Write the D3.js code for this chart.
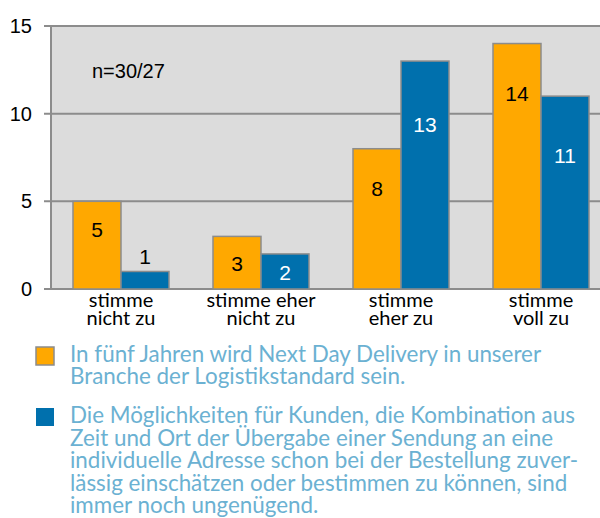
<!DOCTYPE html>
<html><head><meta charset="utf-8">
<script src="https://cdn.jsdelivr.net/npm/d3@7"></script>
<style>body{margin:0;background:#fff}svg{display:block}</style>
</head><body><svg id="c" width="600" height="518"></svg>
<script>
const categories = [["stimme","nicht zu"],["stimme eher","nicht zu"],["stimme","eher zu"],["stimme","voll zu"]];
const series1 = [5, 3, 8, 14];
const series2 = [1, 2, 13, 11];
const labelAnchor1 = [3.37, 1.48, 5.76, 11.18];
const labelAnchor2 = [1.83, 0.97, 9.41, 7.64];
const yTicks = [0, 5, 10, 15];
const seriesNames = [
  ["In fünf Jahren wird Next Day Delivery in unserer","Branche der Logistikstandard sein."],
  ["Die Möglichkeiten für Kunden, die Kombination aus","Zeit und Ort der Übergabe einer Sendung an eine","individuelle Adresse schon bei der Bestellung zuver-","lässig einschätzen oder bestimmen zu können, sind","immer noch ungenügend."]
];
const note = "n=30/27";
const colors = ["#FFA800", "#0070AD"];

const svg = d3.select("#c");
const L = 51, R = 611, T = 26, B = 289;
const x = d3.scaleBand().domain(d3.range(categories.length)).range([L, R]).paddingInner(0.3143).paddingOuter(0.1571);
const y = d3.scaleLinear().domain([0, 15]).range([B, T]);
const bw = x.bandwidth() / 2;
const grid = "#8c8c8c";

svg.append("rect").attr("x", L).attr("y", T).attr("width", 600 - L).attr("height", B - T).attr("fill", "#dcdcdc");
svg.append("g").selectAll("line").data(yTicks).join("line")
  .attr("x1", 44).attr("x2", 600).attr("y1", d => y(d)).attr("y2", d => y(d))
  .attr("stroke", grid).attr("stroke-width", 2);
svg.append("line").attr("x1", L).attr("x2", L).attr("y1", T).attr("y2", B).attr("stroke", grid).attr("stroke-width", 2);
svg.append("g").selectAll("text").data(yTicks).join("text")
  .attr("x", 32).attr("y", d => y(d)).attr("dy", "0.35em").attr("text-anchor", "end")
  .attr("font-family", "Liberation Sans, Arial, sans-serif").attr("font-size", 20).attr("fill", "#000")
  .text(d => d);

svg.append("text").attr("x", 92).attr("y", 78).attr("font-family", "Liberation Sans, Arial, sans-serif")
  .attr("font-size", 20).attr("fill", "#000").text(note);

const allSeries = [series1, series2];
const anchors = [labelAnchor1, labelAnchor2];
allSeries.forEach((s, si) => {
  const g = svg.append("g");
  g.selectAll("rect").data(s).join("rect")
    .attr("x", (d, i) => x(i) + si * bw).attr("y", d => y(d))
    .attr("width", bw).attr("height", d => y(0) - y(d))
    .attr("fill", colors[si]).attr("stroke", grid).attr("stroke-width", 1.5);
  g.selectAll("text").data(s).join("text")
    .attr("x", (d, i) => x(i) + si * bw + bw / 2).attr("y", (d, i) => y(anchors[si][i]))
    .attr("dy", "0.36em").attr("text-anchor", "middle")
    .attr("font-family", "Liberation Sans, Arial, sans-serif").attr("font-size", 21)
    .attr("fill", (d, i) => (si === 1 && anchors[si][i] < d) ? "#fff" : "#000")
    .text(d => d);
});

const xl = svg.append("g").selectAll("text").data(categories).join("text")
  .attr("text-anchor", "middle").attr("font-family", "Lato, sans-serif").attr("font-size", 20).attr("fill", "#000");
xl.each(function(d, i) {
  const t = d3.select(this);
  d.forEach((line, j) => t.append("tspan").attr("x", x(i) + x.bandwidth() / 2).attr("y", 307 + j * 18).text(line));
});

const legY = [347, 408];
const legBase = [362, 423];
const lineH = [21.5, 22.6];
seriesNames.forEach((lines, si) => {
  svg.append("rect").attr("x", 36).attr("y", legY[si]).attr("width", 18).attr("height", 18)
    .attr("fill", colors[si]).attr("stroke", si === 0 ? grid : "none").attr("stroke-width", 1.5);
  const t = svg.append("text").attr("font-family", "Lato, sans-serif").attr("font-size", 22.4).attr("fill", "#6BB1D2");
  lines.forEach((line, j) => t.append("tspan").attr("x", 70).attr("y", legBase[si] + j * lineH[si]).text(line));
});
</script></body></html>
